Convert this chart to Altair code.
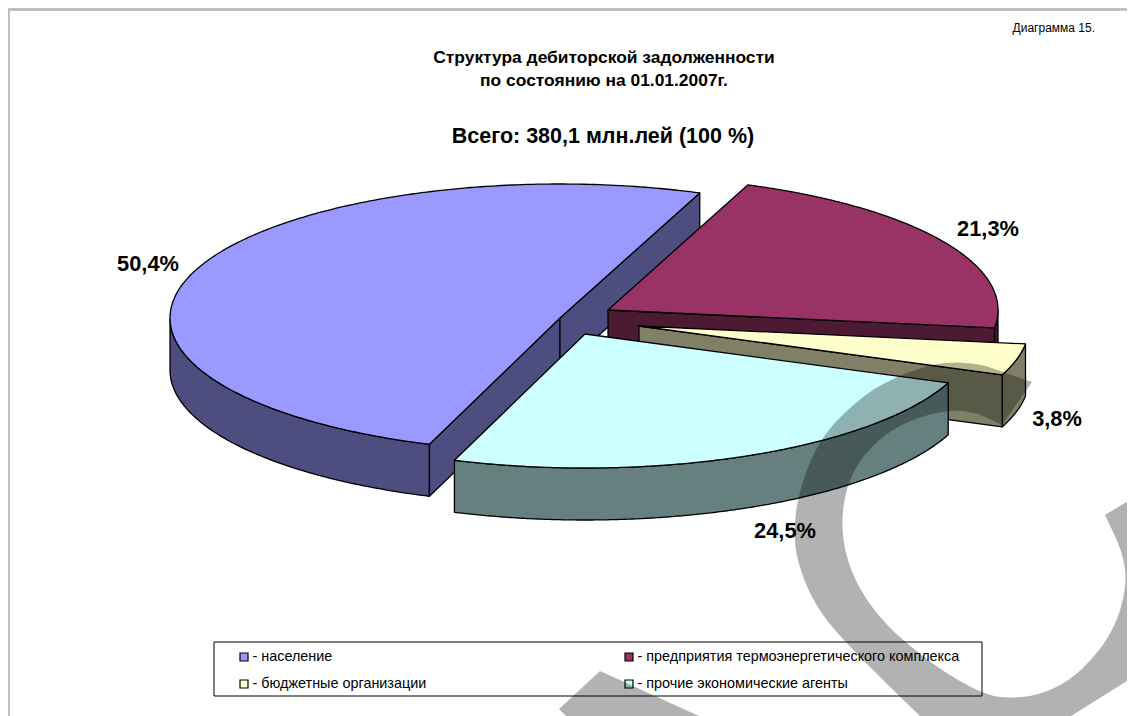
import altair as alt
import numpy as np
import pandas as pd

# ---- data
names = ["население", "предприятия термоэнергетического комплекса",
         "бюджетные организации", "прочие экономические агенты"]
shares = [50.4, 21.3, 3.8, 24.5]
share_labels = ["50,4%", "21,3%", "3,8%", "24,5%"]
top_colors = ["#9999FF", "#993366", "#FFFFCC", "#CCFFFF"]
side_colors = ["#4D4D80", "#4D1A33", "#808066", "#668080"]
title_lines = ["Структура дебиторской задолженности", "по состоянию на 01.01.2007г."]
total_line = "Всего: 380,1 млн.лей (100 %)"
note_line = "Диаграмма 15."

# ---- layout
W, H = 1119, 708
centres = [(560, 318), (608, 310), (639, 326), (585, 334)]
RX, RY, DEPTH = 390, 134, 52
ROTATION = 199.56
label_pos = [(148, 264), (988, 229), (1057, 419), (785, 531)]
legend_pos = [(244, 657), (629, 657), (244, 684), (629, 684)]

X = alt.X("x:Q", axis=None, scale=alt.Scale(domain=[8, 8 + W], range=[0, W], nice=False, zero=False))
Y = alt.Y("y:Q", axis=None, scale=alt.Scale(domain=[8, 8 + H], range=[0, H], nice=False, zero=False))


def rim(c, t):
    r = np.radians(t)
    return c[0] + RX * np.sin(r), c[1] - RY * np.cos(r)


def poly(points, fill, stroke="black", width=1.3, opacity=None):
    df = pd.DataFrame(points, columns=["x", "y"])
    df["i"] = range(len(df))
    kw = dict(interpolate="linear-closed", fill=fill, strokeJoin="round", clip=True)
    if opacity is not None:
        kw.update(fillOpacity=opacity, strokeOpacity=0, strokeWidth=0)
    else:
        kw.update(stroke=stroke, strokeWidth=width)
    return alt.Chart(df).mark_line(**kw).encode(x=X, y=Y, order=alt.Order("i:Q"))


def text(rows, size, bold=False, align="center", color="black"):
    df = pd.DataFrame(rows, columns=["x", "y", "t"])
    return alt.Chart(df).mark_text(font="Liberation Sans", fontSize=size, align=align, baseline="middle",
                                   fontWeight="bold" if bold else "normal", color=color).encode(x=X, y=Y, text="t:N")


def rect(x0, x1, y0, y1, fill, stroke=None, width=0):
    df = pd.DataFrame({"x": [x0], "x2": [x1], "y": [y0], "y2": [y1]})
    kw = dict(fill=fill)
    if stroke:
        kw.update(stroke=stroke, strokeWidth=width)
    return alt.Chart(df).mark_rect(**kw).encode(x=X, x2="x2:Q", y=Y, y2="y2:Q")


def chaikin(pts, n=3):
    pts = np.array(pts, float)
    for _ in range(n):
        a, b = pts[:-1], pts[1:]
        q = 0.75 * a + 0.25 * b
        r = 0.25 * a + 0.75 * b
        mid = np.empty((2 * len(a), 2))
        mid[0::2], mid[1::2] = q, r
        pts = np.vstack([pts[0], mid, pts[-1]])
    return pts.tolist()


layers = [rect(8, 1127, 8, 11, "#C0C0C0"), rect(8, 10, 8, 716, "#C0C0C0")]

# ---- pie, painted back to front
start = ROTATION
for c, v, top, side in zip(centres, shares, top_colors, side_colors):
    end = start + v * 3.6
    ts = np.linspace(start, end, 240)
    arc = [rim(c, t) for t in ts]
    low = (c[0], c[1] + DEPTH)
    # outer wall
    m = (ts % 360 >= 90) & (ts % 360 <= 270)
    if m.any():
        front = [rim(c, t) for t in ts[m]]
        wall = front + [(x, y + DEPTH) for x, y in front[::-1]]
        layers.append(poly(wall, side))
    # cut faces
    for t, sign in ((start, -1), (end, 1)):
        if sign * np.sin(np.radians(t)) > 0:
            p = rim(c, t)
            layers.append(poly([c, p, (p[0], p[1] + DEPTH), low], side))
    layers.append(poly([c] + arc, top))
    start = end

# ---- texts
layers.append(text([(1095, 28, note_line)], 12, align="right"))
layers.append(text([(604, 58, title_lines[0]), (604, 81, title_lines[1])], 17.4, bold=True))
layers.append(text([(603, 137, total_line)], 21.5, bold=True))
layers.append(text([(x, y, t) for (x, y), t in zip(label_pos, share_labels)], 21.8, bold=True))

# ---- legend
layers.append(rect(214, 982, 642, 696, "white", "black", 1))
for (x, y), col, name in zip(legend_pos, top_colors, names):
    layers.append(rect(x - 4, x + 4, y - 4, y + 4, col, "black", 1.2))
    layers.append(text([(x + 8.5, y, "- " + name)], 14.4, align="left"))

# ---- translucent backdrop stroke across the lower right
ring_outer = [(1032, 382), (1003, 372), (980, 364), (953, 362), (930, 365), (900, 375), (863, 395), (820, 437),
              (798, 493), (793, 540), (803, 580), (823, 617), (853, 650), (890, 687), (920, 716)]
ring_inner = [(1105, 515), (1123, 553), (1127, 587), (1113, 633), (1080, 673), (1047, 693), (1010, 699), (980, 693),
              (930, 663), (880, 620), (850, 573), (840, 523), (850, 473), (880, 437), (915, 418), (950, 410),
              (975, 412), (1002, 425)]
ring = chaikin(ring_outer) + [(1071, 716), (1135, 676), (1135, 497)] + chaikin(ring_inner)
layers.append(poly(ring, "black", opacity=0.3))
layers.append(poly([(600, 671), (699, 716), (566, 716), (559, 709)], "black", opacity=0.3))

chart = alt.layer(*layers).properties(
    width=W, height=H, padding=0, autosize=alt.AutoSizeParams(type="none"), background="white"
).configure_view(stroke=None)

chart.save("out.html", embed_options={"renderer": "svg", "actions": False})
